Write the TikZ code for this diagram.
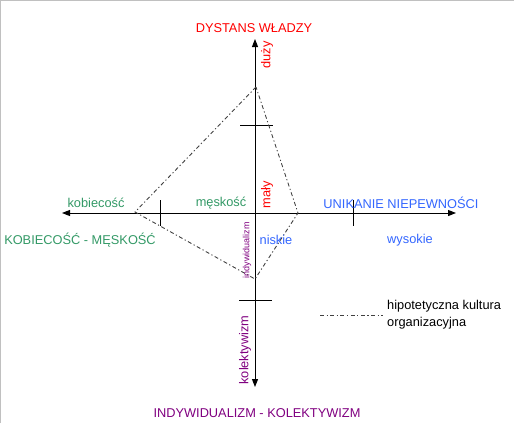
\documentclass[tikz,border=0pt]{standalone}
\usepackage{fontspec}
\setmainfont{Liberation Sans}
\usepackage{xcolor}
\usetikzlibrary{arrows.meta}
\definecolor{HKRed}{HTML}{FF0000}
\definecolor{HKGreen}{HTML}{339966}
\definecolor{HKBlue}{HTML}{3366FF}
\definecolor{HKPurple}{HTML}{800080}
\definecolor{HKFrame}{HTML}{C0C0C0}

\begin{document}
\begin{tikzpicture}[x=1pt,y=-1pt,
  axis/.style={line width=1pt,-{Triangle[width=6pt,length=8pt]}},
  tickmark/.style={line width=1pt},
  culture/.style={line width=0.9pt,black!75,dash pattern=on 4pt off 2.5pt on 1.2pt off 2.5pt},
  lbl/.style={inner sep=0pt,font=\fontsize{12.8}{15}\selectfont}]
\path[use as bounding box] (0,0) rectangle (514,423);
\draw[HKFrame,line width=1pt] (0.5,423) -- (0.5,0.5) -- (514,0.5);
% axes
\coordinate (top) at (255,39);
\coordinate (bottom) at (255,387);
\coordinate (left) at (62,213);
\coordinate (right) at (456,213);
\coordinate (centre) at (255,213);
\draw[axis] (centre) -- (top);
\draw[axis] (centre) -- (bottom);
\draw[axis] (centre) -- (left);
\draw[axis] (centre) -- (right);
\draw[tickmark] (240,125) -- (273,125);
\draw[tickmark] (239,300) -- (272,300);
\draw[tickmark] (160,200) -- (160,226);
\draw[tickmark] (353,200) -- (353,226);
% hypothetical culture
\coordinate (pd) at (256,87);
\coordinate (mf) at (135,212);
\coordinate (ic) at (255,279);
\coordinate (ua) at (298,213);
\draw[culture] (pd) -- (mf) -- (ic) -- (ua) -- cycle;
% labels
\node[lbl,HKRed] (pdTitle) at (254,28) {DYSTANS WŁADZY};
\node[lbl,HKRed,rotate=90] (pdHigh) at (267,55) {duży};
\node[lbl,HKRed,rotate=90] (pdLow) at (267,195) {mały};
\node[lbl,HKGreen] (mfFem) at (96,203) {kobiecość};
\node[lbl,HKGreen] (mfMasc) at (221,203) {męskość};
\node[lbl,HKGreen] (mfTitle) at (80,240) {KOBIECOŚĆ - MĘSKOŚĆ};
\node[lbl,HKBlue] (uaTitle) at (401,203) {UNIKANIE NIEPEWNOŚCI};
\node[lbl,HKBlue] (uaLow) at (276,240) {niskie};
\node[lbl,HKBlue] (uaHigh) at (410,240) {wysokie};
\node[inner sep=0pt,font=\fontsize{9}{11}\selectfont,HKPurple,rotate=90] (icInd) at (247,250) {indywidualizm};
\node[lbl,HKPurple,rotate=90] (icCol) at (245,350) {kolektywizm};
\node[lbl,HKPurple] (icTitle) at (257,413) {INDYWIDUALIZM - KOLEKTYWIZM};
% legend
\node[lbl,anchor=west,align=left,font=\fontsize{12.8}{17}\selectfont] (legend) at (387,315) {hipotetyczna kultura\\organizacyjna};
\coordinate (legendStart) at (320,315);
\draw[culture] (legendStart) -- ([xshift=-4pt]legend.west);
\end{tikzpicture}
\end{document}
